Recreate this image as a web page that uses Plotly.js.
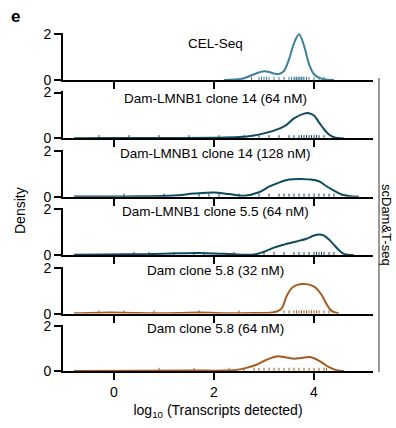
<!DOCTYPE html>
<html>
<head>
<meta charset="utf-8">
<script src="https://cdn.plot.ly/plotly-3.0.1.min.js"></script>
<style>html,body{margin:0;padding:0;background:#fff;}#chart{width:396px;height:428px;}</style>
</head>
<body>
<div id="chart"></div>
<script>
// Panel labels
const panelLabels = ["CEL-Seq","Dam-LMNB1 clone 14 (64 nM)","Dam-LMNB1 clone 14 (128 nM)","Dam-LMNB1 clone 5.5 (64 nM)","Dam clone 5.8 (32 nM)","Dam clone 5.8 (64 nM)"];
// Density curves (x = log10 transcripts, y = density)
const xCel = [2.2,2.4,2.6,2.8,3.0,3.1,3.2,3.3,3.4,3.5,3.6,3.7,3.8,3.9,4.0,4.1,4.2,4.4];
const yCel = [0,0.02,0.08,0.25,0.38,0.35,0.28,0.26,0.4,0.9,1.6,2.0,1.5,0.7,0.25,0.1,0.03,0];
const xL14a = [-0.8,0,1,2,2.5,2.8,3.0,3.2,3.4,3.5,3.6,3.8,3.9,4.0,4.1,4.2,4.3,4.4,4.6];
const yL14a = [0.01,0.02,0.02,0.03,0.06,0.13,0.22,0.34,0.52,0.68,0.87,1.08,1.1,1.0,0.7,0.4,0.17,0.05,0];
const xL14b = [-0.8,0.5,1.2,1.6,2.0,2.3,2.6,2.9,3.1,3.3,3.5,3.7,3.9,4.1,4.25,4.4,4.55,4.7,4.9];
const yL14b = [0.01,0.02,0.06,0.14,0.19,0.12,0.05,0.2,0.44,0.62,0.75,0.78,0.76,0.68,0.46,0.27,0.1,0.03,0];
const xL55 = [-0.8,0.3,0.8,1.3,1.7,2.2,2.8,3.0,3.2,3.4,3.65,3.85,4.0,4.1,4.2,4.3,4.4,4.5,4.6,4.8];
const yL55 = [0.02,0.04,0.05,0.08,0.1,0.06,0.03,0.15,0.33,0.46,0.6,0.72,0.86,0.9,0.85,0.68,0.45,0.22,0.06,0];
const xD32 = [-0.8,-0.3,0.2,0.8,1.3,1.7,2.2,2.8,3.2,3.35,3.45,3.55,3.65,3.8,3.95,4.05,4.15,4.25,4.35,4.5];
const yD32 = [0.01,0.04,0.04,0.02,0.03,0.05,0.02,0.03,0.06,0.22,0.75,1.1,1.24,1.29,1.23,1.1,0.82,0.42,0.12,0.01];
const xD64 = [-0.8,0.5,1.5,2.2,2.45,2.65,2.85,3.05,3.25,3.45,3.6,3.75,3.92,4.05,4.19,4.3,4.45,4.6];
const yD64 = [0,0.01,0.02,0.02,0.05,0.14,0.28,0.5,0.65,0.6,0.55,0.58,0.62,0.52,0.33,0.17,0.04,0];
// Rug (individual cells, log10 transcripts)
const rugCel = [2.75,2.9,2.95,3.0,3.05,3.1,3.2,3.3,3.4,3.5,3.55,3.6,3.62,3.65,3.68,3.7,3.72,3.75,3.78,3.8,3.85,3.9,4.0,4.1,4.2];
const rugL14a = [-0.3,0.3,0.9,1.5,2.1,2.6,2.9,3.1,3.3,3.5,3.6,3.7,3.75,3.8,3.85,3.9,3.95,4.0,4.05,4.1,4.2];
const rugL14b = [0.2,1.0,1.7,1.9,2.1,2.5,2.9,3.1,3.3,3.4,3.5,3.6,3.7,3.8,3.9,4.0,4.1,4.2,4.3,4.4];
const rugL55 = [0.4,0.7,1.2,1.6,1.8,2.4,3.0,3.2,3.4,3.6,3.7,3.8,3.9,4.0,4.05,4.1,4.15,4.2,4.3,4.4];
const rugD32 = [-0.3,0.2,0.8,1.7,2.5,3.4,3.5,3.6,3.65,3.7,3.75,3.8,3.85,3.9,3.95,4.0,4.05,4.1,4.2,4.3];
const rugD64 = [0.9,1.6,2.3,2.6,2.8,2.9,3.0,3.1,3.2,3.3,3.4,3.5,3.6,3.7,3.8,3.9,4.0,4.1,4.2,4.25];

const curvesX = [xCel,xL14a,xL14b,xL55,xD32,xD64];
const curvesY = [yCel,yL14a,yL14b,yL55,yD32,yD64];
const rugs = [rugCel,rugL14a,rugL14b,rugL55,rugD32,rugD64];
const colors = ["#3f809c","#0e4a5f","#0e4a5f","#0e4a5f","#a85a1e","#a85a1e"];

const FONT = "Liberation Sans, Arial, Helvetica, sans-serif";
const H = 428, mt = 33, mb = 57;
const plotH = H - mt - mb;
const traces = [];
const layout = {
  width: 396, height: 428,
  margin: {l: 63, r: 23, t: mt, b: mb},
  paper_bgcolor: "#fff", plot_bgcolor: "#fff",
  showlegend: false,
  font: {family: FONT, size: 14, color: "#000"},
  annotations: [], shapes: []
};
const n = 6;
for (let i = 0; i < n; i++) {
  const s = i === 0 ? "" : String(i + 1);
  const top = mt + i * 58.4;
  const bot = top + 47;
  const dom = [(H - mb - bot) / plotH, (H - mb - top) / plotH];
  traces.push({
    x: curvesX[i], y: curvesY[i], xaxis: "x" + s, yaxis: "y" + s,
    type: "scatter", mode: "lines",
    line: {color: colors[i], width: 2, shape: "spline", smoothing: 1},
    hoverinfo: "skip"
  });
  traces.push({
    x: rugs[i], y: rugs[i].map(() => 0.05), xaxis: "x" + s, yaxis: "y" + s,
    type: "scatter", mode: "markers",
    marker: {symbol: "line-ns", size: 3, color: colors[i], line: {color: colors[i], width: 1}},
    hoverinfo: "skip"
  });
  const xa = {
    domain: [0, 1], anchor: "y" + s, range: [-1.02, 5.18],
    showline: true, linecolor: "#000", linewidth: 2,
    ticks: "outside", ticklen: 7, tickwidth: 2, tickcolor: "#000",
    tickvals: [0, 2, 4], ticktext: ["0", "2", "4"],
    showticklabels: i === n - 1, showgrid: false, zeroline: false,
    tickfont: {family: FONT, size: 14}
  };
  if (i === n - 1) {
    xa.title = {text: "log<sub>10</sub> (Transcripts detected)", font: {family: FONT, size: 14}, standoff: 6};
  }
  layout["xaxis" + s] = xa;
  layout["yaxis" + s] = {
    domain: dom, anchor: "x" + s, range: [0, 2.05],
    showline: true, linecolor: "#000", linewidth: 2,
    ticks: "outside", ticklen: 7, tickwidth: 2, tickcolor: "#000",
    tickvals: [0, 2], ticktext: ["0", "2"],
    showgrid: false, zeroline: false,
    tickfont: {family: FONT, size: 14}
  };
}
const labelY = [43, 98, 153, 212, 270, 328];
for (let i = 0; i < n; i++) {
  layout.annotations.push({
    text: panelLabels[i], xref: "paper", yref: "paper",
    x: (215 - 63) / 310, y: (H - mb - labelY[i]) / plotH,
    xanchor: "center", yanchor: "middle", showarrow: false,
    font: {family: FONT, size: 13.5, color: "#000"}
  });
}
layout.annotations.push({
  text: "Density", xref: "paper", yref: "paper",
  x: (20 - 63) / 310, y: (H - mb - 211) / plotH, textangle: -90,
  xanchor: "center", yanchor: "middle", showarrow: false,
  font: {family: FONT, size: 14, color: "#000"}
});
layout.annotations.push({
  text: "scDam&amp;T-seq", xref: "paper", yref: "paper",
  x: (387 - 63) / 310, y: (H - mb - 225) / plotH, textangle: 90,
  xanchor: "center", yanchor: "middle", showarrow: false,
  font: {family: FONT, size: 13, color: "#000"}
});
layout.annotations.push({
  text: "<b>e</b>", xref: "paper", yref: "paper",
  x: (15 - 63) / 310, y: (H - mb - 16) / plotH,
  xanchor: "center", yanchor: "middle", showarrow: false,
  font: {family: FONT, size: 17, color: "#000"}
});
layout.shapes.push({
  type: "line", xref: "paper", yref: "paper",
  x0: (379 - 63) / 310, x1: (379 - 63) / 310,
  y0: (H - mb - 372) / plotH, y1: (H - mb - 78) / plotH,
  line: {color: "#9a9a9a", width: 2}
});
Plotly.newPlot("chart", traces, layout, {displayModeBar: false, staticPlot: true});
</script>
</body>
</html>
